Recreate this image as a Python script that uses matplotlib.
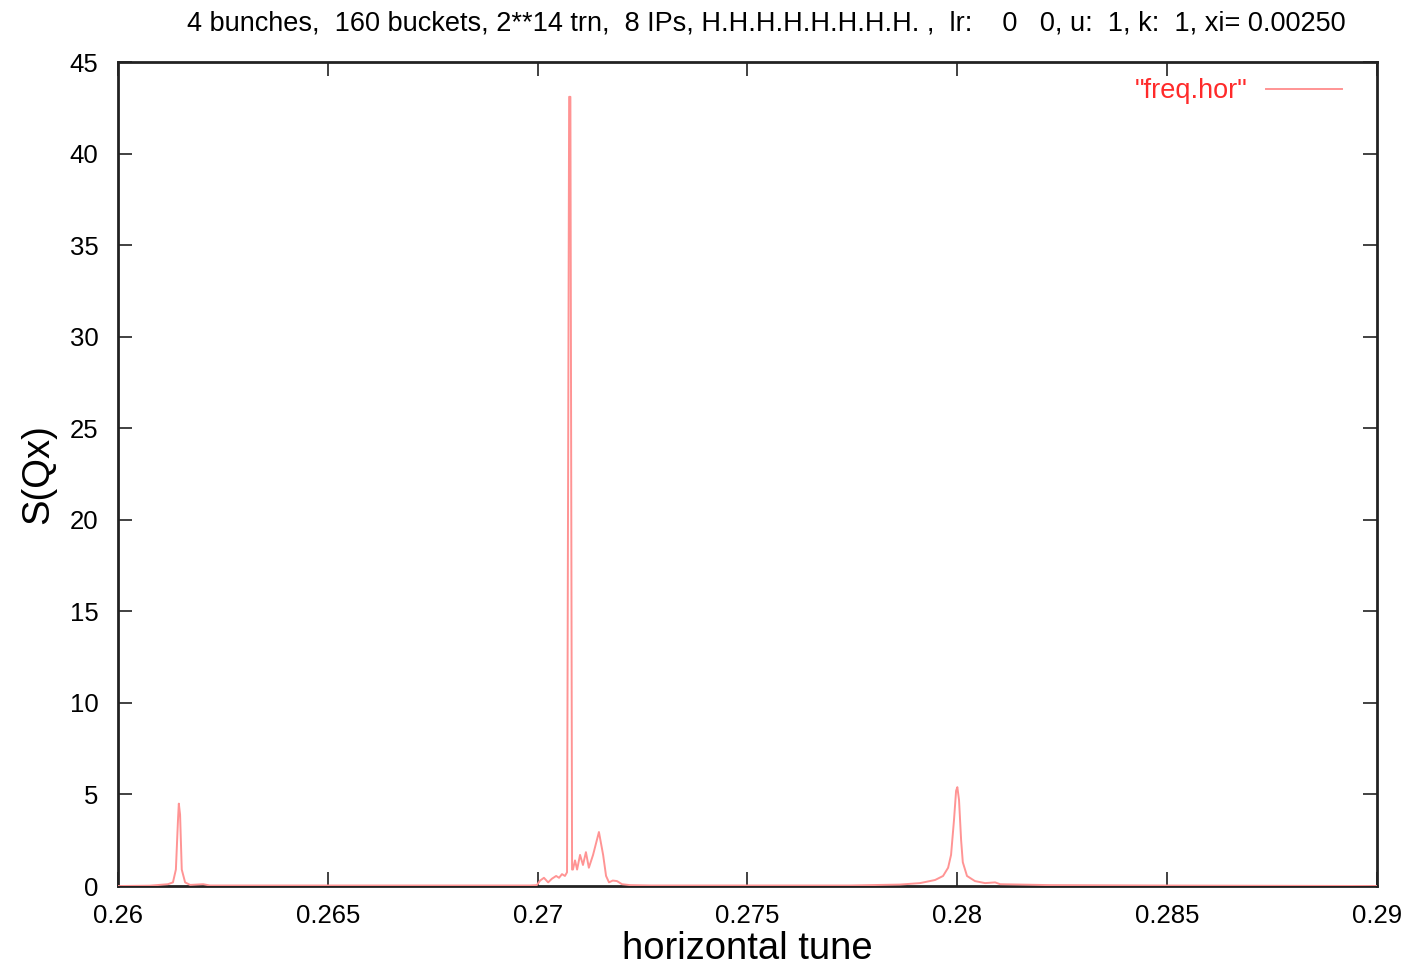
import matplotlib
matplotlib.use("Agg")
import matplotlib.pyplot as plt

plt.rcParams["font.family"] = ["Liberation Sans", "DejaVu Sans"]

# spectrum (tune, S(Qx))
tune = [0.26000, 0.26076, 0.26119, 0.26131, 0.26138, 0.26143, 0.26145, 0.26148,
        0.26152, 0.26160, 0.26172, 0.26203, 0.26219, 0.26982, 0.26998, 0.27006,
        0.27015, 0.27025, 0.27034, 0.27044, 0.27051, 0.27058, 0.27065, 0.27070,
        0.27075, 0.27078, 0.27082, 0.27084, 0.27089, 0.27094, 0.27101, 0.27108,
        0.27115, 0.27122, 0.27132, 0.27146, 0.27156, 0.27163, 0.27170, 0.27179,
        0.27189, 0.27201, 0.27220, 0.27268, 0.27744, 0.27863, 0.27911, 0.27947,
        0.27966, 0.27978, 0.27985, 0.27992, 0.27997, 0.28000, 0.28004, 0.28009,
        0.28013, 0.28023, 0.28042, 0.28066, 0.28090, 0.28102, 0.28221, 0.28459,
        0.29000]
s_qx = [0.00, 0.02, 0.10, 0.20, 0.90, 3.60, 4.50, 3.90,
        0.90, 0.20, 0.06, 0.10, 0.03, 0.03, 0.05, 0.30,
        0.45, 0.20, 0.40, 0.55, 0.45, 0.65, 0.55, 0.75,
        43.1, 43.1, 0.90, 0.90, 1.40, 0.90, 1.70, 1.15,
        1.85, 1.00, 1.70, 2.95, 1.70, 0.55, 0.20, 0.30,
        0.27, 0.10, 0.05, 0.03, 0.03, 0.08, 0.16, 0.33,
        0.55, 1.00, 1.70, 3.60, 5.20, 5.40, 4.70, 2.50,
        1.30, 0.55, 0.27, 0.16, 0.20, 0.10, 0.05, 0.03,
        0.00]

xticks = [0.26, 0.265, 0.27, 0.275, 0.28, 0.285, 0.29]
xticklabels = ["0.26", "0.265", "0.27", "0.275", "0.28", "0.285", "0.29"]
yticks = [0, 5, 10, 15, 20, 25, 30, 35, 40, 45]

title = ("4 bunches,  160 buckets, 2**14 trn,  8 IPs, H.H.H.H.H.H.H.H. ,  lr:    0   0, u:  1, k:  1, xi= 0.00250")

fig = plt.figure(figsize=(14.06, 9.71), dpi=100)
ax = fig.add_axes([0.0839, 0.0875, 0.8955, 0.8486])

ax.plot(tune, s_qx, color="#ff9494", lw=1.4, label='"freq.hor"', zorder=3)

ax.set_xlim(0.26, 0.29)
ax.set_ylim(0, 45)
ax.set_xticks(xticks)
ax.set_xticklabels(xticklabels)
ax.set_yticks(yticks)
ax.tick_params(direction="in", length=10, width=1.3, color="#333333",
               labelsize=18.5, top=True, right=True)
ax.tick_params(axis="x", pad=13)
ax.tick_params(axis="y", pad=14)
for sp in ax.spines.values():
    sp.set_linewidth(2)
    sp.set_color("#222222")

ax.set_xlabel("horizontal tune", fontsize=27.5, labelpad=2)
ax.set_ylabel("S(Qx)", fontsize=27.5, labelpad=10)
fig.text(0.545, 0.976, title, fontsize=19.5, ha="center", va="center")

leg = ax.legend(loc="upper right", frameon=False, fontsize=19.5, markerfirst=False,
                handlelength=2.8, borderaxespad=0.4, borderpad=0.2,
                handletextpad=0.7)
for t in leg.get_texts():
    t.set_color("#ff2a2a")
leg.set_bbox_to_anchor((0.985, 1.0), transform=ax.transAxes)

fig.savefig("out.png", dpi=100)
